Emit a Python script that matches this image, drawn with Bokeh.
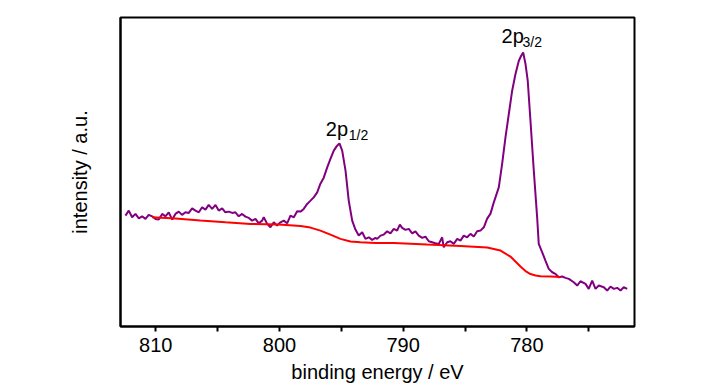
from bokeh.plotting import figure
from bokeh.models import Range1d, FixedTicker, Label
from bokeh.embed import file_html
from bokeh.resources import INLINE

# ---- data ----
energy_ev = [
    812.45, 812.18, 811.91, 811.64, 811.37, 811.10, 810.83, 810.57, 810.29, 810.02,
    809.76, 809.48, 809.22, 808.95, 808.67, 808.41, 808.14, 807.87, 807.60, 807.33,
    807.06, 806.79, 806.52, 806.25, 805.98, 805.72, 805.44, 805.17, 804.91, 804.63,
    804.37, 804.10, 803.82, 803.56, 803.29, 803.02, 802.75, 802.48, 802.21, 801.94,
    801.67, 801.40, 801.27, 800.99, 800.73, 800.46, 800.19, 799.92, 799.65, 799.38,
    799.11, 798.84, 798.57, 798.30, 798.04, 797.76, 797.49, 797.23, 796.95, 796.69,
    796.42, 796.14, 795.88, 795.61, 795.34, 795.15, 794.93, 794.66, 794.40, 794.12,
    793.86, 793.59, 793.31, 793.05, 792.78, 792.51, 792.24, 792.10, 791.83, 791.57,
    791.29, 791.03, 790.76, 790.49, 790.27, 790.08, 789.81, 789.55, 789.27, 789.01,
    788.74, 788.46, 788.20, 787.93, 787.66, 787.39, 787.12, 786.85, 786.72, 786.44,
    786.18, 785.91, 785.63, 785.37, 785.10, 784.83, 784.56, 784.29, 784.02, 783.75,
    783.48, 783.21, 782.94, 782.68, 782.27, 782.00, 781.73, 781.46, 781.19, 780.92,
    780.65, 780.46, 780.30, 780.11, 779.93, 779.71, 779.44, 779.17, 779.04, 778.76,
    778.50, 778.23, 777.95, 777.69, 777.42, 777.15, 776.88, 776.61, 776.21, 775.93,
    775.67, 775.26, 775.00, 774.72, 774.45, 774.19, 773.78, 773.51, 773.24, 772.97,
    772.70, 772.43, 772.17, 771.89,
]
intensity = [
    111.0, 116.0, 109.3, 112.7, 108.3, 110.3, 107.7, 111.7, 110.3, 107.7,
    107.0, 112.7, 110.3, 114.3, 107.0, 112.7, 115.0, 111.7, 114.3, 113.7,
    118.3, 116.0, 114.3, 119.3, 117.0, 121.7, 117.7, 121.7, 116.0, 118.3,
    114.3, 115.0, 113.7, 114.3, 110.3, 112.7, 110.0, 108.7, 106.0, 107.7,
    103.3, 106.0, 109.3, 102.7, 99.3, 104.3, 101.0, 104.3, 106.0, 103.3,
    111.0, 109.3, 115.3, 115.0, 117.7, 122.7, 126.0, 129.3, 134.3, 143.0,
    149.0, 159.3, 167.7, 176.0, 181.0, 183.3, 176.0, 156.0, 126.0, 106.0,
    97.0, 91.0, 94.3, 87.7, 89.3, 86.7, 88.7, 87.7, 91.0, 92.0,
    95.3, 93.3, 97.7, 96.0, 102.0, 98.7, 96.7, 97.7, 93.3, 95.3,
    91.0, 88.7, 90.0, 85.3, 84.3, 83.3, 82.7, 89.3, 79.3, 84.3,
    85.3, 82.7, 87.7, 86.0, 91.0, 89.3, 92.7, 90.0, 95.3, 96.0,
    99.3, 108.0, 113.0, 124.0, 139.3, 162.7, 189.3, 212.7, 236.0, 252.7,
    266.0, 271.0, 274.3, 262.7, 246.0, 206.0, 156.0, 109.3, 82.7, 74.3,
    66.0, 57.7, 54.3, 52.7, 49.3, 50.0, 48.7, 47.7, 44.3, 41.0,
    45.3, 42.7, 37.7, 46.0, 37.7, 41.0, 39.3, 36.0, 40.0, 37.7,
    38.7, 36.0, 39.3, 37.7,
]

bg_energy_ev = [
    810.29, 808.41, 806.39, 804.37, 802.34, 800.06, 798.30, 797.49, 796.69, 795.88,
    795.07, 794.26, 793.45, 792.24, 790.76, 788.06, 785.37, 783.21, 782.13, 781.33,
    780.52, 780.11, 779.71, 779.30, 778.90, 778.09, 777.28,
]
bg_intensity = [
    109.3, 108.0, 106.0, 104.3, 102.7, 102.0, 100.5, 99.0, 96.0, 92.0,
    87.7, 85.0, 84.3, 83.7, 83.7, 82.0, 80.7, 79.0, 76.0, 70.0,
    60.0, 55.5, 52.5, 51.0, 50.3, 50.0, 49.5,
]

x_major_ticks = [810, 800, 790, 780]
x_minor_ticks = [805, 795, 785, 775]

FONT = "'Liberation Sans Narrow', 'Arial Narrow', 'Liberation Sans', Arial, sans-serif"

p = figure(
    frame_width=514, frame_height=309,
    min_border_left=120, min_border_top=17, min_border_right=66, min_border_bottom=0,
    x_range=Range1d(812.85, 771.3), y_range=Range1d(0, 309.3),
    output_backend="svg", toolbar_location=None,
)
p.background_fill_color = "white"
p.border_fill_color = "white"
p.outline_line_color = "black"
p.outline_line_width = 2
p.grid.visible = False

p.line(energy_ev, intensity, line_color="#800080", line_width=2)
p.line(bg_energy_ev, bg_intensity, line_color="#ff0000", line_width=2)

# x axis
xa = p.xaxis[0]
xa.ticker = FixedTicker(ticks=x_major_ticks, minor_ticks=x_minor_ticks)
xa.axis_line_color = "black"
xa.axis_line_width = 2
xa.major_tick_in = 0
xa.major_tick_out = 5
xa.minor_tick_in = 0
xa.minor_tick_out = 5
xa.major_tick_line_width = 2
xa.minor_tick_line_width = 2
xa.major_label_text_font = FONT
xa.major_label_text_font_size = "20px"
xa.major_label_text_color = "black"
xa.major_label_standoff = 6
xa.axis_label = "binding energy / eV"
xa.axis_label_text_font = FONT
xa.axis_label_text_font_size = "20px"
xa.axis_label_text_font_style = "normal"
xa.axis_label_text_color = "black"
xa.axis_label_standoff = 6

# y axis
ya = p.yaxis[0]
ya.ticker = FixedTicker(ticks=[])
ya.major_tick_line_color = None
ya.minor_tick_line_color = None
ya.major_label_text_font_size = "0px"
ya.axis_line_color = "black"
ya.axis_line_width = 2
ya.axis_label = "intensity / a.u."
ya.axis_label_text_font = FONT
ya.axis_label_text_font_size = "20px"
ya.axis_label_text_font_style = "normal"
ya.axis_label_text_color = "black"
ya.axis_label_standoff = 30

# peak annotations
for main_txt, sub_txt, x_main, y_main, x_sub, y_sub in [
    ("2p", "1/2", 796.25, 198.0, 794.40, 192.0),
    ("2p", "3/2", 782.05, 291.0, 780.35, 284.5),
]:
    p.add_layout(Label(x=x_main, y=y_main, text=main_txt, text_font=FONT,
                       text_font_size="20px", text_color="black",
                       text_align="left", text_baseline="alphabetic"))
    p.add_layout(Label(x=x_sub, y=y_sub, text=sub_txt, text_font=FONT,
                       text_font_size="14px", text_color="black",
                       text_align="left", text_baseline="alphabetic"))

open("out.html", "w").write(file_html(p, INLINE))
